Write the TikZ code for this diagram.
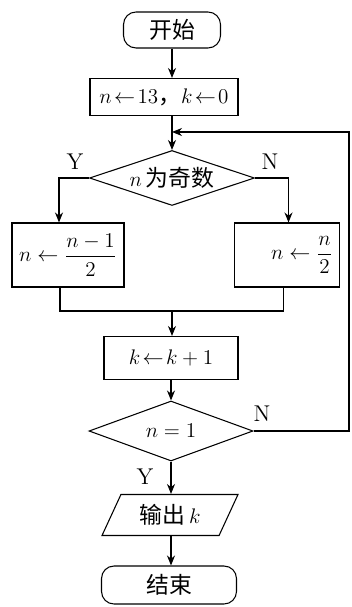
\documentclass[tikz,border=0pt]{standalone}
\usepackage{amsmath}
\usepackage{fontspec}
\newfontfamily\cjk{Noto Sans CJK SC}
\usepackage{tikz}
\usetikzlibrary{arrows.meta,positioning,calc,shapes.geometric}

\begin{document}
\begin{tikzpicture}[
    x=0.02cm, y=-0.02cm,
    font=\fontsize{13}{15}\selectfont,
    line width=0.6pt,
    term/.style={draw, rounded corners=2.5mm, minimum width=2.7cm, minimum height=0.76cm, align=center},
    box/.style={draw, minimum height=0.74cm, align=center, inner sep=1pt},
    test/.style={draw, diamond, aspect=3.1, inner sep=-1pt, minimum width=3.3cm, minimum height=1.1cm},
    io/.style={draw, trapezium, trapezium left angle=60, trapezium right angle=120, trapezium stretches body, minimum width=2.72cm, minimum height=0.82cm},
    arr/.style={-{Stealth[length=2mm, width=1.6mm]}},
]
    \useasboundingbox (0,0) rectangle (351,607);

    \node[term, minimum width=1.94cm, minimum height=0.72cm] (start) at (172,30) {\cjk{开始}};
    \node[box, minimum width=2.96cm] (init) at (164,97) {$n\!\leftarrow\! 13$\cjk{，}$k\!\leftarrow\! 0$};
    \node[test] (odd) at (172,178) {$n$\,\cjk{为奇数}};
    \node[box, minimum width=2.24cm, minimum height=1.28cm] (lbox) at (68,255) {$n\leftarrow\dfrac{n-1}{2}$};
    \node[box, minimum width=2.1cm, minimum height=1.28cm] (rbox) at (287,255) {\hspace{0.6cm}$n\leftarrow\dfrac{n}{2}$};
    \node[box, minimum width=2.68cm, minimum height=0.86cm] (inc) at (171,358) {$k\!\leftarrow\! k+1$};
    \node[test, minimum width=3.28cm, minimum height=1.2cm] (one) at (171,431) {$n=1$};
    \node[io] (out) at (170,515) {\cjk{输出}\,$k$};
    \node[term] (stop) at (169,585) {\cjk{结束}};

    \coordinate (back) at (349,132);
    \coordinate (join) at (172,311);

    \draw[arr] (start) -- (start |- init.north);
    \draw[arr] (init.south -| odd) -- (odd.north);
    \draw[arr] (odd.west) -| ([xshift=-0.18cm]lbox.north);
    \draw[arr] (odd.east) -| ([xshift=0.03cm]rbox.north);
    \draw ([xshift=-0.16cm]lbox.south) |- (join) -| ([xshift=-0.07cm]rbox.south);
    \draw[arr] (join) -- (join |- inc.north);
    \draw[arr] (inc) -- (one);
    \draw[arr] (one.south) -- (one.south |- out.north);
    \draw[arr] (one |- out.south) -- (one |- stop.north);
    \draw[arr] (one.east) -| (back) -- (back -| odd.north);

    \node (y1) at (75,162) {Y};
    \node (n1) at (270,162) {N};
    \node (n2) at (262,414) {N};
    \node (y2) at (145,477) {Y};
\end{tikzpicture}
\end{document}
